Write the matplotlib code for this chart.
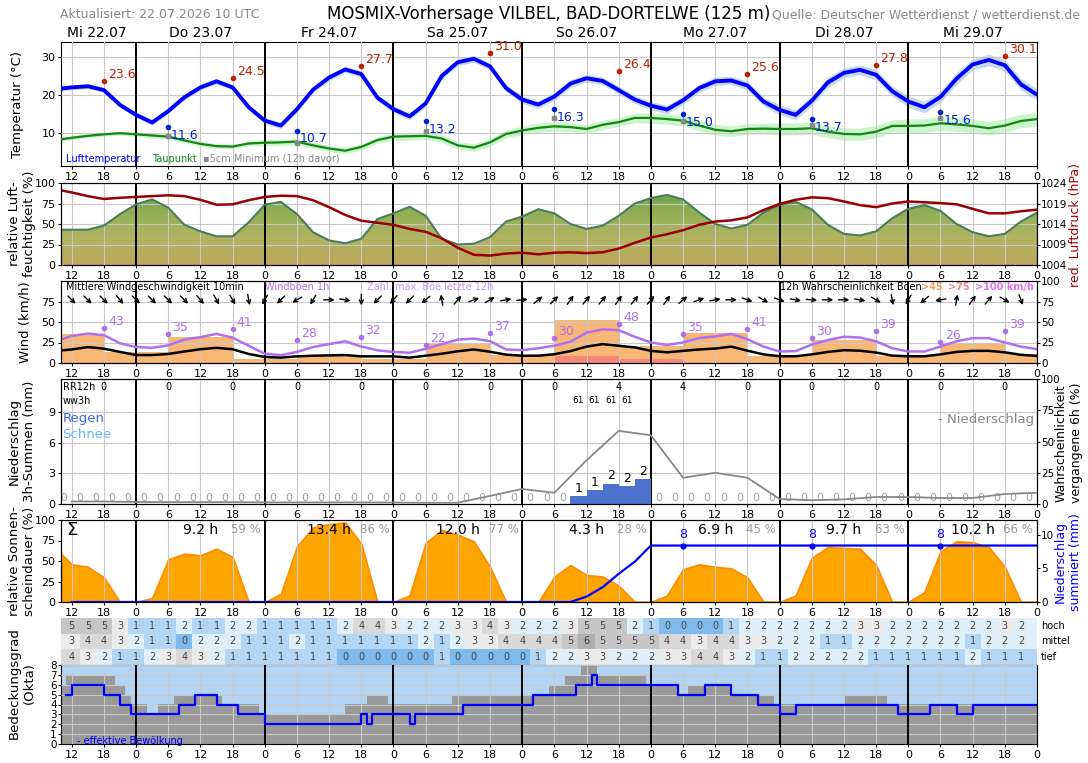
import numpy as np
import matplotlib
matplotlib.use("Agg")
import matplotlib.pyplot as plt
from matplotlib.colors import LinearSegmentedColormap
from matplotlib.patches import Polygon

# time base: hours since 22.07.2026 00 UTC
hours = np.array([10] + list(range(12, 193, 3)))

temp = [21.7, 22.0, 22.3, 21.3, 17.4, 14.8, 12.8, 15.8, 19.4, 22.0, 23.6, 22.0, 16.8, 13.3, 12.0, 16.3,
        21.4, 24.6, 26.7, 25.5, 19.3, 16.3, 14.4, 17.8, 25.0, 28.6, 29.5, 27.5, 21.8, 18.8, 17.5, 19.6,
        23.0, 24.4, 23.7, 21.3, 18.8, 17.2, 16.2, 18.6, 21.8, 23.6, 23.8, 22.5, 18.3, 16.1, 14.8, 18.5,
        23.3, 25.8, 26.6, 25.3, 21.0, 18.3, 16.8, 19.5, 24.3, 28.0, 29.2, 27.8, 22.8, 20.1]
dew = [8.4, 8.8, 9.3, 9.7, 10.0, 9.7, 9.4, 9.1, 8.1, 7.2, 6.6, 6.5, 7.3, 7.5, 7.6, 7.8,
       6.8, 6.0, 5.4, 6.4, 8.2, 9.1, 9.2, 9.3, 8.6, 6.8, 6.2, 7.6, 9.8, 10.7, 11.4, 11.8,
       11.6, 11.1, 12.2, 12.9, 14.0, 14.0, 13.7, 13.3, 12.0, 10.9, 10.5, 11.1, 11.2, 11.1, 11.1, 11.3,
       10.4, 9.8, 9.7, 10.4, 11.9, 11.9, 12.0, 12.6, 12.3, 11.9, 11.3, 12.0, 13.2, 13.7]
temp_spread_day = [0.6, 0.7, 0.8, 0.9, 1.0, 1.1, 1.3, 1.5]
dew_spread_day = [0.5, 0.6, 0.8, 1.0, 1.2, 1.4, 1.6, 1.8]

tmax_hours = [18, 42, 66, 90, 114, 138, 162, 186]
tmax = [23.6, 24.5, 27.7, 31.0, 26.4, 25.6, 27.8, 30.1]
tmin_hours = [30, 54, 78, 102, 126, 150, 174]
tmin = [11.6, 10.7, 13.2, 16.3, 15.0, 13.7, 15.6]
tmin_5cm = [9.3, 7.4, 10.6, 14.0, 13.3, 12.1, 13.9]

rh = [43, 43, 43, 48, 62, 74, 80, 70, 49, 41, 35, 35, 52, 73.5, 77, 62,
      40, 30, 26.5, 32, 56, 63, 71, 60, 32, 25, 26, 34, 53, 59, 68, 63,
      50, 44, 48, 60, 75, 81.6, 85.5, 80, 64, 50, 44.5, 49, 64, 73.5, 77, 68,
      49, 38, 36, 41, 57, 68.6, 73, 66, 50, 40, 35, 38, 53, 64]
pressure = [1022.2, 1021.7, 1020.8, 1020.1, 1020.4, 1020.6, 1020.8, 1021.0, 1020.8, 1019.9, 1018.7, 1018.8,
            1019.8, 1020.6, 1020.9, 1020.8, 1019.8, 1018.1, 1016.2, 1014.8, 1014.3, 1013.8, 1012.8, 1012.1,
            1010.5, 1008.2, 1006.5, 1006.3, 1006.8, 1007.0, 1006.6, 1007.0, 1007.1, 1006.9, 1007.1, 1008.0,
            1009.4, 1010.7, 1011.5, 1012.5, 1013.8, 1014.6, 1014.9, 1015.6, 1017.4, 1018.9, 1019.9, 1020.5,
            1020.3, 1019.5, 1018.6, 1018.1, 1019.0, 1019.5, 1019.3, 1019.1, 1018.8, 1017.7, 1016.6, 1016.6,
            1017.1, 1017.5]

wind = [15.3, 16.5, 19.4, 17.5, 13.5, 9.7, 9.7, 11.0, 14.0, 16.8, 18.5, 16.8, 11.0, 7.3, 6.5, 8.1,
        8.9, 9.3, 9.7, 8.1, 8.1, 8.1, 6.5, 8.9, 11.3, 14.3, 16.5, 13.7, 10.2, 8.9, 8.9, 10.7,
        14.5, 20.0, 23.0, 21.0, 19.0, 14.8, 13.0, 14.8, 16.5, 17.6, 20.0, 15.0, 10.5, 8.2, 8.2, 10.5,
        13.5, 15.6, 15.0, 12.7, 9.0, 8.2, 8.2, 10.5, 13.5, 14.8, 14.8, 13.0, 10.0, 8.6]
gust = [28.6, 33.0, 35.9, 34.0, 24.0, 19.4, 18.5, 21.5, 28.6, 31.5, 35.5, 31.0, 21.0, 11.3, 9.5, 13.5,
        19.4, 23.0, 26.5, 20.0, 15.5, 13.5, 12.5, 17.3, 23.0, 28.5, 29.8, 26.6, 16.5, 15.7, 18.0, 21.0,
        26.0, 37.0, 41.0, 40.0, 32.0, 25.0, 22.0, 25.0, 30.5, 32.4, 35.5, 29.0, 20.0, 14.0, 14.5, 22.5,
        28.0, 32.0, 31.0, 26.5, 18.0, 14.0, 14.0, 20.0, 26.5, 30.3, 30.3, 25.0, 20.0, 16.8]
gust_max_hours = [18, 30, 42, 54, 66, 78, 90, 102, 114, 126, 138, 150, 162, 174, 186]
gust_max = [43, 35, 41, 28, 32, 22, 37, 30, 48, 35, 41, 30, 39, 26, 39]
prob_edges = [10, 18, 30, 42, 54, 66, 78, 90, 102, 114, 126, 138, 150, 162, 174, 186, 192]
prob_45 = [35.5, 14, 32, 5, 8.5, 4.5, 24, 10, 52, 20.5, 37, 8.5, 27.5, 8.5, 24.5, 11.5]
prob_75 = [0, 0, 0, 0, 1, 0, 0, 0, 8.5, 4.5, 0, 0, 0, 0, 0, 0]
arrow_hours = np.arange(12, 190, 3)
wind_dir = [315, 315, 315, 320, 315, 315, 315, 315, 320, 330, 330, 350, 30, 45, 60, 30, 270, 280, 0, 45,
            40, 45, 50, 170, 220, 250, 240, 260, 265, 230, 225, 215, 220, 220, 215, 220, 220, 215, 230, 250,
            260, 270, 290, 300, 290, 280, 275, 270, 270, 280, 300, 350, 30, 50, 80, 190, 215, 220, 300, 340]

# precipitation, 3h intervals starting at 9, 12, ... 189 UTC-hours
rain_start = np.arange(9, 192, 3)
rain_3h = [0] * 32 + [0.8, 1.4, 2.0, 1.8, 2.4] + [0] * 24
rr12_hours = [18, 30, 42, 54, 66, 78, 90, 102, 114, 126, 138, 150, 162, 174, 186]
rr12 = [0, 0, 0, 0, 0, 0, 0, 0, 4, 4, 0, 0, 0, 0, 0]
ww_hours = [106.5, 109.5, 112.5, 115.5]
ww_codes = ['61', '61', '61', '61']
pop_hours = np.arange(12, 193, 6)
pop_6h = [2, 2, 1.6, 1.5, 1.5, 1.5, 1.3, 1.3, 1.3, 1.3, 1.2, 1.0, 1.0, 6.5, 12, 9,
          35, 58.5, 55, 21, 25, 21, 4, 3, 3.7, 5.6, 5.6, 4.8, 4.8, 8, 9]

sun = [59, 46, 43, 30, 0, 0, 5, 52, 59, 57, 65, 55, 0, 0, 10, 68,
       91, 95, 97, 71, 0, 0, 8, 72, 88, 82, 74, 43, 0, 0, 0, 31,
       45, 33, 31, 20, 0, 0, 8, 40, 46, 43, 41, 30, 0, 0, 8, 54,
       67, 66, 65, 45, 0, 0, 12, 62, 74, 73, 67, 43, 0, 0]
sun_day_hours = [36, 60, 84, 108, 132, 156, 180]
sun_h = ['9.2 h', '13.4 h', '12.0 h', '4.3 h', '6.9 h', '9.7 h', '10.2 h']
sun_pct = [59, 86, 77, 28, 45, 63, 66]
acc_mark_hours = [126, 150, 174]

table_hours = np.arange(12, 190, 3)
cloud_high = [5, 5, 5, 3, 1, 1, 1, 2, 1, 1, 2, 2, 1, 1, 1, 1, 1, 2, 4, 4, 3, 2, 2, 2, 3, 3, 4, 3, 2, 2,
              2, 3, 5, 5, 5, 2, 1, 0, 0, 0, 0, 1, 2, 2, 2, 2, 2, 2, 2, 3, 3, 2, 2, 2, 2, 2, 2, 2, 3, 2]
cloud_mid = [3, 4, 4, 3, 2, 1, 1, 0, 2, 2, 2, 1, 1, 1, 2, 1, 1, 1, 1, 1, 1, 1, 2, 1, 2, 3, 3, 4, 4, 4,
             4, 5, 6, 5, 5, 5, 5, 4, 4, 3, 4, 4, 3, 3, 2, 2, 2, 1, 1, 2, 2, 2, 2, 2, 2, 2, 1, 2, 2, 2]
cloud_low = [4, 3, 2, 1, 1, 2, 3, 4, 3, 2, 1, 1, 1, 1, 1, 1, 1, 0, 0, 0, 0, 0, 0, 1, 0, 0, 0, 0, 0, 1,
             2, 2, 3, 3, 2, 2, 2, 3, 3, 4, 4, 3, 2, 1, 1, 2, 2, 2, 2, 2, 1, 1, 1, 1, 1, 1, 2, 1, 1, 1]
cloud_total_t = [10, 11, 20, 22, 23, 26, 28, 31, 40, 47, 63, 67, 71, 83, 101, 104, 107, 110, 119, 125,
                 127, 135, 143, 156, 164]
cloud_total = [6, 7, 6, 5, 4, 3, 4, 5, 4, 3, 4, 5, 4, 5, 6, 7, 8, 7, 6, 5, 6, 5, 4, 5, 4]
cloud_eff_t = [11, 12, 18, 21, 23, 32, 35, 39, 43, 48, 66, 67, 68, 75, 76, 85, 98, 106, 109, 110,
               125, 130, 135, 140, 144, 147, 166, 172, 177, 180]
cloud_eff = [5, 6, 5, 4, 3, 4, 5, 4, 3, 2, 3, 2, 3, 2, 3, 4, 5, 6, 7, 6, 5, 6, 5, 4, 3, 4, 3, 4, 3, 4]

day_label_hours = [16.7, 36, 60, 84, 108, 132, 156, 180]
day_labels = ['Mi 22.07', 'Do 23.07', 'Fr 24.07', 'Sa 25.07', 'So 26.07', 'Mo 27.07', 'Di 28.07', 'Mi 29.07']

tick_hours = np.arange(12, 193, 6)
midnights = [24, 48, 72, 96, 120, 144, 168]

W, H = 1088, 763
fig = plt.figure(figsize=(W / 100, H / 100), dpi=100)


def add_ax(top, bottom):
    return fig.add_axes([61 / W, 1 - bottom / H, 976 / W, (bottom - top) / H])


def time_axis(ax, grid_y=True):
    ax.set_xlim(10, 192)
    ax.set_xticks(tick_hours)
    ax.set_xticklabels([str(h % 24) for h in tick_hours])
    ax.tick_params(labelsize=8, length=2, pad=2)
    ax.grid(True, axis='both' if grid_y else 'x', color='#c8c8c8', lw=0.8)
    ax.set_axisbelow(False)
    for m in midnights:
        ax.axvline(m, color='black', lw=1.4, zorder=2.6)


def right_ticks(ax, ticks):
    ax.set_yticks(ticks)
    ax.tick_params(labelsize=7.5, length=2, pad=1)


def side_label(x, y, text, color='black', size=9.5):
    fig.text(x / W, 1 - y / H, text, rotation=90, ha='center', va='center',
             multialignment='center', fontsize=size, color=color)


# header
fig.text(60 / W, 1 - 15 / H, 'Aktualisiert: 22.07.2026 10 UTC', fontsize=9, color='#888888', va='center')
fig.text(549 / W, 1 - 14 / H, 'MOSMIX-Vorhersage VILBEL, BAD-DORTELWE (125 m)', fontsize=12, ha='center', va='center')
fig.text(1080 / W, 1 - 15 / H, 'Quelle: Deutscher Wetterdienst / wetterdienst.de', fontsize=9,
         color='#888888', ha='right', va='center')

# temperature
ax_t = add_ax(42, 166)
time_axis(ax_t)
day_idx = np.minimum(hours // 24, 7)
t_sp = np.array(temp_spread_day)[day_idx]
d_sp = np.array(dew_spread_day)[day_idx]
ax_t.fill_between(hours, np.array(temp) - t_sp, np.array(temp) + t_sp, color='#c6dbf0', lw=0, zorder=1)
ax_t.fill_between(hours, np.array(dew) - d_sp, np.array(dew) + d_sp, color='#ccf5cc', lw=0, zorder=1)
ax_t.plot(hours, dew, color='#118811', lw=1.6, zorder=3, solid_joinstyle='round')
ax_t.plot(hours, temp, color='#0000ff', lw=2.8, zorder=4, solid_capstyle='round', solid_joinstyle='round')
ax_t.plot(tmax_hours, tmax, 'o', color='#c02000', ms=3, zorder=5)
for h, v in zip(tmax_hours, tmax):
    ax_t.annotate(f'{v:.1f}', (h, v), xytext=(3, 0), textcoords='offset points',
                  ha='left', va='bottom', fontsize=9, color='#c02000')
for h, v, g in zip(tmin_hours, tmin, tmin_5cm):
    ax_t.plot([h, h], [g, v], color='#999999', lw=0.8, zorder=4)
    ax_t.plot(h, g, 's', color='#888888', ms=2.5, zorder=5)
    ax_t.plot(h, v, 'o', color='#0022cc', ms=3, zorder=5)
    ax_t.annotate(f'{v:.1f}', (h, v), xytext=(2, -6), textcoords='offset points',
                  ha='left', va='center', fontsize=9, color='#0022cc')
ax_t.set_ylim(1.4, 33.9)
ax_t.set_yticks([10, 20, 30])
ax_t.text(11, 0.06, 'Lufttemperatur', transform=ax_t.get_xaxis_transform(), fontsize=7, color='#0000ff', va='center')
ax_t.text(27, 0.06, 'Taupunkt', transform=ax_t.get_xaxis_transform(), fontsize=7, color='#118811', va='center')
ax_t.text(36.5, 0.06, '\u25aa5cm Minimum (12h davor)', transform=ax_t.get_xaxis_transform(), fontsize=7,
          color='#888888', va='center')
for h, lab in zip(day_label_hours, day_labels):
    ax_t.text(h, 1.015, lab, transform=ax_t.get_xaxis_transform(), ha='center', va='bottom', fontsize=10)
side_label(18, 104, 'Temperatur (°C)')

# humidity / pressure
ax_rh = add_ax(183, 265)
cmap_rh = LinearSegmentedColormap.from_list('rh', ['#bda65c', '#b2b462', '#8fae55', '#5c9944'])
grad = np.linspace(0, 1, 256).reshape(-1, 1)
im = ax_rh.imshow(grad, extent=[10, 192, 0, 100], origin='lower', aspect='auto', cmap=cmap_rh, zorder=1)
poly = Polygon(np.column_stack([np.r_[hours[0], hours, hours[-1]], np.r_[0, rh, 0]]), closed=True,
               facecolor='none', edgecolor='none')
ax_rh.add_patch(poly)
im.set_clip_path(poly)
ax_rh.plot(hours, rh, color='#4a7d5c', lw=1.5, zorder=3, solid_joinstyle='round')
time_axis(ax_rh)
ax_rh.set_ylim(0, 100)
ax_rh.set_yticks([0, 25, 50, 75, 100])
ax_p = ax_rh.twinx()
ax_p.plot(hours, pressure, color='#9b0000', lw=1.8, solid_joinstyle='round')
ax_p.set_ylim(1004, 1024)
right_ticks(ax_p, [1004, 1009, 1014, 1019, 1024])
side_label(22, 224, 'relative Luft-\nfeuchtigkeit (%)')
side_label(1075, 225, 'red. Luftdruck (hPa)', color='#a00000', size=9)

# wind
ax_w = add_ax(281, 363)
time_axis(ax_w)
ax_w.stairs(prob_45, prob_edges, fill=True, color='#f9b776', zorder=1)
ax_w.stairs(prob_75, prob_edges, fill=True, color='#f7857a', zorder=1.1)
ax_w.plot(hours, gust, color='#b070f0', lw=1.8, zorder=3, solid_joinstyle='round')
ax_w.plot(hours, wind, color='black', lw=1.8, zorder=3, solid_joinstyle='round')
ax_w.plot(gust_max_hours, gust_max, 'o', color='#b070f0', ms=3, zorder=4)
for h, v in zip(gust_max_hours, gust_max):
    ax_w.annotate(str(v), (h, v), xytext=(3, 0), textcoords='offset points',
                  ha='left', va='bottom', fontsize=9, color='#b070f0')
px_h = 976 / 182
px_w = 82 / 100
for h, d in zip(arrow_hours, wind_dir):
    u = -np.sin(np.radians(d))
    v = -np.cos(np.radians(d))
    dx = 5.5 * u / px_h
    dy = 5.5 * v / px_w
    ax_w.annotate('', xy=(h + dx, 77 + dy), xytext=(h - dx, 77 - dy),
                  arrowprops=dict(arrowstyle='->', color='black', lw=1.0, shrinkA=0, shrinkB=0,
                                  mutation_scale=7), zorder=5)
ax_w.text(11, 93, 'Mittlere Windgeschwindigkeit 10min', fontsize=7, va='center')
ax_w.text(48, 93, 'Windböen 1h', fontsize=7, va='center', color='#b070f0')
ax_w.text(67, 93, 'Zahl: max. Böe letzte 12h', fontsize=7, va='center', color='#c596f5')
ax_w.text(144, 93, '12h Wahrscheinlichkeit Böen', fontsize=7, va='center')
ax_w.text(170.3, 93, '>45', fontsize=7, va='center', color='#f0a060', fontweight='bold')
ax_w.text(175.4, 93, '>75', fontsize=7, va='center', color='#f7857a', fontweight='bold')
ax_w.text(180.4, 93, '>100 km/h', fontsize=7, va='center', color='#e070f0', fontweight='bold')
ax_w.set_ylim(0, 100)
ax_w.set_yticks([0, 25, 50, 75])
ax_w2 = ax_w.twinx()
ax_w2.set_ylim(0, 100)
right_ticks(ax_w2, [0, 25, 50, 75, 100])
side_label(25, 322, 'Wind (km/h)')

# precipitation
ax_r = add_ax(379, 504)
time_axis(ax_r)
rain_c = rain_start + 1.5
ax_r.bar(rain_c, rain_3h, width=3, color='#4d72cd', zorder=3)
for c, v in zip(rain_c, rain_3h):
    if v > 0:
        ax_r.text(c, v + 0.1, str(int(round(v))), ha='center', va='bottom', fontsize=9, zorder=5)
    else:
        ax_r.text(c, 0.05, '0', ha='center', va='bottom', fontsize=8, color='#a0a0a0', zorder=5)
ax_r.text(10.3, 11.4, 'RR12h', fontsize=7, va='center')
ax_r.text(10.3, 10.1, 'ww3h', fontsize=7, va='center')
for h, v in zip(rr12_hours, rr12):
    ax_r.text(h, 11.4, str(v), fontsize=7, ha='center', va='center')
for h, c in zip(ww_hours, ww_codes):
    ax_r.text(h, 10.1, c, fontsize=6.5, ha='center', va='center')
ax_r.text(10.3, 8.3, 'Regen', fontsize=9.5, color='#4169e1', va='center')
ax_r.text(10.3, 6.8, 'Schnee', fontsize=9.5, color='#66b3ff', va='center')
ax_r.set_ylim(0, 12.2)
ax_r.set_yticks([0, 3, 6, 9])
ax_r2 = ax_r.twinx()
ax_r2.plot(pop_hours, pop_6h, color='#888888', lw=1.3)
ax_r2.text(182.5, 68, '- Niederschlag', fontsize=9.5, color='#888888', ha='center', va='center')
ax_r2.set_ylim(0, 100)
right_ticks(ax_r2, [0, 25, 50, 75, 100])
side_label(22, 441, 'Niederschlag\n3h-Summen (mm)')
side_label(1069, 443, 'Wahrscheinlichkeit\nvergangene 6h (%)', size=9)

# sunshine
ax_s = add_ax(520, 602)
time_axis(ax_s, grid_y=False)
ax_s.fill_between(hours, sun, color='#ffa500', lw=1.2, edgecolor='#ff8c00', zorder=1)
ax_s.set_ylim(0, 100)
ax_s.set_yticks([0, 25, 50, 75, 100])
ax_s.text(11, 88, 'Σ', fontsize=13, va='center')
for h, s, p in zip(sun_day_hours, sun_h, sun_pct):
    ax_s.text(h, 88, s, fontsize=10, ha='center', va='center')
    ax_s.text(h + 11.3, 88, f'{p} %', fontsize=8.5, ha='right', va='center', color='#999999')
ax_s2 = ax_s.twinx()
acc_hours = np.r_[12, rain_start + 3]
acc_vals = np.r_[0, np.cumsum(rain_3h)]
ax_s2.plot(acc_hours, acc_vals, color='#0000ff', lw=1.6)
acc_marks = np.interp(acc_mark_hours, acc_hours, acc_vals)
ax_s2.plot(acc_mark_hours, acc_marks, 'o', color='#0000ff', ms=3.5)
for h, v in zip(acc_mark_hours, acc_marks):
    ax_s2.annotate(str(int(round(v))), (h, v), xytext=(0, 3), textcoords='offset points',
                   ha='center', va='bottom', fontsize=9, color='#0000ff')
ax_s2.set_ylim(0, 12.2)
right_ticks(ax_s2, [0, 5, 10])
side_label(22, 561, 'relative Sonnen-\nscheindauer (%)')
side_label(1068, 562, 'Niederschlag\nsummiert (mm)', color='#0000ff', size=9)

# cloud layers table
cell_cols = ['#7fbaec', '#b4d6f5', '#dff0fa', '#ebebeb', '#d9d9d9', '#c6c6c6', '#b0b0b0', '#a0a0a0', '#909090']
ax_tab = add_ax(618, 665)
ax_tab.set_xlim(10, 192)
ax_tab.set_ylim(0, 3)
lefts = table_hours - 1.5
lefts[0] = 10
widths = np.full(len(table_hours), 3.0)
widths[0] = table_hours[1] - 1.5 - 10
widths[-1] = 192 - lefts[-1]
for row_y, row, name in [(2, cloud_high, 'hoch'), (1, cloud_mid, 'mittel'), (0, cloud_low, 'tief')]:
    ax_tab.bar(lefts, 1, width=widths, bottom=row_y, align='edge', color=[cell_cols[v] for v in row], lw=0)
    for h, v in zip(table_hours, row):
        ax_tab.text(h, row_y + 0.5, str(v), ha='center', va='center', fontsize=7, color='#444444')
    ax_tab.text(1.004, row_y + 0.5, name, transform=ax_tab.get_yaxis_transform(), fontsize=7, va='center')
ax_tab.axis('off')

# cloud cover
ax_c = add_ax(665, 744)
ax_c.set_facecolor('#b3d5f5')
ax_c.fill_between(cloud_total_t + [192], cloud_total + [cloud_total[-1]], step='post', color='#999999', lw=0, zorder=1)
ax_c.step(cloud_eff_t + [192], cloud_eff + [cloud_eff[-1]], where='post', color='#0000ff', lw=1.6, zorder=4)
time_axis(ax_c)
ax_c.set_ylim(0, 8)
ax_c.set_yticks(range(9))
ax_c.tick_params(axis='y', labelsize=7.5, pad=1)
ax_c.text(13, 0.35, '- effektive Bewölkung', fontsize=7, color='#0000ff', va='center', zorder=5)
side_label(22, 683, 'Bedeckungsgrad\n(Okta)')

fig.savefig('out.png', dpi=100)
